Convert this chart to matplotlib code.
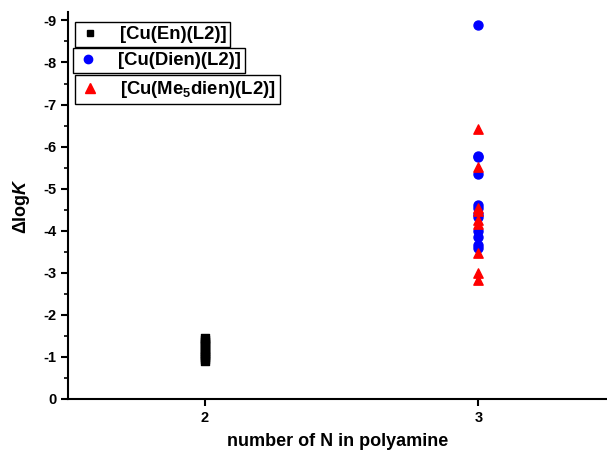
import numpy as np
import matplotlib.pyplot as plt
from matplotlib.lines import Line2D
from matplotlib.ticker import MultipleLocator

plt.rcParams['font.family'] = ['Liberation Sans', 'DejaVu Sans']
plt.rcParams['font.weight'] = 'bold'
plt.rcParams['axes.unicode_minus'] = False
plt.rcParams['mathtext.fontset'] = 'custom'
plt.rcParams['mathtext.rm'] = 'Liberation Sans:bold'
plt.rcParams['mathtext.bf'] = 'Liberation Sans:bold'
plt.rcParams['mathtext.bfit'] = 'Liberation Sans:bold:italic'

# delta logK values, grouped by number of N in the polyamine
en_x = 2
en_dlogk = [-0.9, -0.95, -1.0, -1.05, -1.1, -1.15, -1.2, -1.25, -1.3, -1.35, -1.4, -1.45]
dien_x = 3
dien_dlogk = [-8.9, -5.78, -5.75, -5.35, -4.62, -4.55, -4.4, -4.33, -4.0, -3.85, -3.65, -3.6]
me5dien_x = 3
me5dien_dlogk = [-6.42, -5.52, -4.55, -4.48, -4.25, -4.15, -3.47, -3.0, -2.82]

labels = ['[Cu(En)(L2)]', '[Cu(Dien)(L2)]', r'[Cu(Me$_{\mathbf{5}}$dien)(L2)]']

fig = plt.figure(figsize=(6.07, 4.53), dpi=100)
ax = fig.add_axes([68/607, 54/453, 1 - 68/607, 1 - 54/453 - 12/453])

ax.scatter([en_x]*len(en_dlogk), en_dlogk, marker='s', s=30, c='black', zorder=3)
ax.scatter([dien_x]*len(dien_dlogk), dien_dlogk, marker='o', s=42, c='blue', zorder=3)
ax.scatter([me5dien_x]*len(me5dien_dlogk), me5dien_dlogk, marker='^', s=45, c='red', zorder=4)

ax.set_xlim(1.5, 3.47)
ax.set_ylim(0, -9.2)
ax.set_xticks([2, 3])
ax.yaxis.set_major_locator(MultipleLocator(1))
ax.yaxis.set_minor_locator(MultipleLocator(0.5))
ax.spines['top'].set_visible(False)
ax.spines['right'].set_visible(False)
ax.spines['left'].set_linewidth(1.5)
ax.spines['bottom'].set_linewidth(1.5)
ax.tick_params(axis='both', which='major', direction='out', length=5, width=1.5, labelsize=10.5)
ax.tick_params(axis='y', which='minor', direction='out', length=3, width=1.2)
for t in ax.get_xticklabels() + ax.get_yticklabels():
    t.set_fontweight('bold')

ax.set_xlabel('number of N in polyamine', fontsize=13, fontweight='bold', labelpad=6)
ax.set_ylabel(r'Δlog$\mathbfit{K}$', fontsize=13, fontweight='bold', labelpad=8)

# three separate framed legend boxes, as in the original
handles = [
    Line2D([], [], ls='none', marker='s', color='black', markersize=5),
    Line2D([], [], ls='none', marker='o', color='blue', markersize=6),
    Line2D([], [], ls='none', marker='^', color='red', markersize=7),
]
anchors = [(75, 22), (73, 48), (75, 75)]
for h, lab, (px, py) in zip(handles, labels, anchors):
    leg = fig.legend([h], [lab], loc='upper left',
                     bbox_to_anchor=(px/607, 1 - py/453),
                     prop={'weight': 'bold', 'size': 13.3},
                     frameon=True, fancybox=False, edgecolor='black',
                     framealpha=1, borderpad=0.22, handlelength=1.2,
                     handletextpad=1.0, borderaxespad=0)
    leg.get_frame().set_linewidth(1.0)

fig.savefig('out.png', dpi=100)
